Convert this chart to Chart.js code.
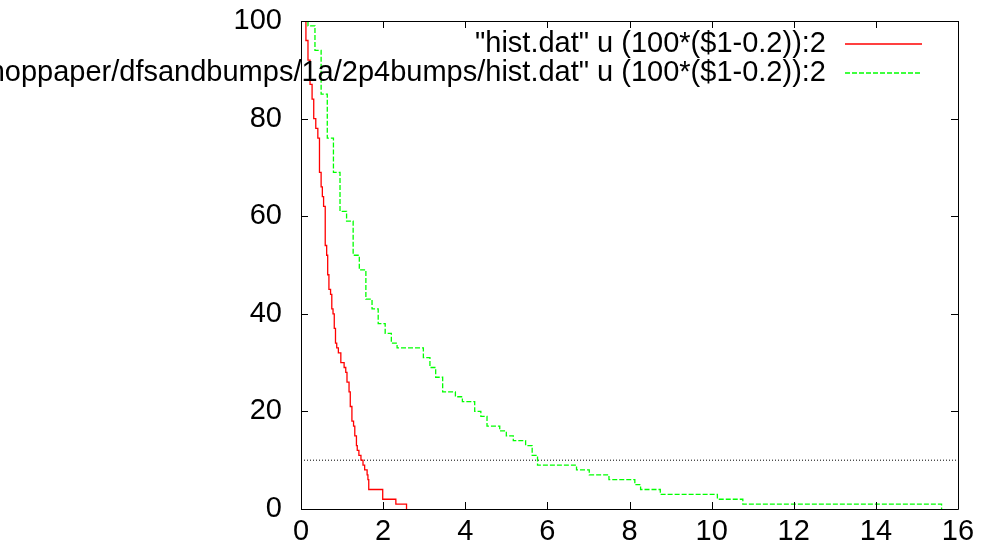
<!DOCTYPE html>
<html>
<head>
<meta charset="utf-8">
<script src="https://cdn.jsdelivr.net/npm/chart.js@4.4.1/dist/chart.umd.min.js"></script>
<style>
  html, body { margin: 0; padding: 0; background: #ffffff; }
  #wrap { width: 984px; height: 552px; }
</style>
</head>
<body>
<div id="wrap"><canvas id="c" width="984" height="552"></canvas></div>
<script>
// Tick positions for both axes
const xTicks = [0, 2, 4, 6, 8, 10, 12, 14, 16];
const yTicks = [0, 20, 40, 60, 80, 100];

// Series labels (as written by the plotting command)
const seriesLabels = [
  '"hist.dat" u (100*($1-0.2)):2',
  '"../workshoppaper/dfsandbumps/1a/2p4bumps/hist.dat" u (100*($1-0.2)):2'
];
const seriesColors = ['#ff0000', '#00ff00'];
const seriesDashes = [[], [5, 2]];

// Series 1: x where the count drops, and the count after the drop
const histX = [0.12, 0.12, 0.17, 0.22, 0.27, 0.31, 0.36, 0.41, 0.45, 0.49, 0.52, 0.55, 0.59, 0.625, 0.65,
  0.68, 0.72, 0.75, 0.78, 0.81, 0.84, 0.87, 0.91, 0.97, 1.05, 1.09, 1.12, 1.17, 1.20, 1.24, 1.28, 1.31,
  1.35, 1.37, 1.41, 1.46, 1.51, 1.55, 1.61, 1.63, 1.65, 1.99, 2.31, 2.57];
const histY = [100, 96, 92, 87, 84, 80, 78, 76, 69, 66, 64, 62, 54, 52, 48,
  45, 44, 41, 40, 37, 34, 33, 32, 30, 29, 28, 26, 24, 21, 18, 17, 15,
  13, 12, 11, 10, 9, 8, 7, 6, 4, 2, 1, 0];

// Series 2: 2p4bumps run
const bumpsX = [0.17, 0.17, 0.34, 0.49, 0.64, 0.79, 0.95, 1.11, 1.27, 1.42, 1.58, 1.73, 1.88, 2.05, 2.20,
  2.34, 2.98, 3.14, 3.28, 3.45, 3.76, 3.93, 4.23, 4.38, 4.53, 4.84, 5.00, 5.17, 5.47, 5.63, 5.76,
  6.71, 7.02, 7.50, 8.13, 8.27, 8.75, 10.14, 10.76, 15.60];
const bumpsY = [100, 99, 94, 85, 76, 69, 61, 59, 52, 49, 43, 41, 38, 36, 34,
  33, 31, 29, 27, 24, 23, 22, 20, 19, 17, 16, 15, 14, 13, 11, 9,
  8, 7, 6, 5, 4, 3, 2, 1, 0];

// Reference level at 10
const refX = [0, 16];
const refY = [10, 10];

const FONT = '"Liberation Sans", Arial, Helvetica, sans-serif';
const FONT_SIZE = 29;
const LINE_W = 1.3;

const toPoints = (xs, ys) => xs.map((x, i) => ({ x: x, y: ys[i] }));

// Border box with inward ticks on all four sides
const framePlugin = {
  id: 'frame',
  afterDatasetsDraw(chart) {
    const { ctx, chartArea: a, scales } = chart;
    const len = 7;
    ctx.save();
    ctx.strokeStyle = '#000';
    ctx.lineWidth = 1;
    ctx.beginPath();
    ctx.rect(Math.round(a.left) + 0.5, Math.round(a.top) + 0.5,
             Math.round(a.right - a.left), Math.round(a.bottom - a.top));
    ctx.stroke();
    ctx.beginPath();
    scales.x.ticks.forEach(t => {
      const px = Math.round(scales.x.getPixelForValue(t.value)) + 0.5;
      ctx.moveTo(px, a.bottom); ctx.lineTo(px, a.bottom - len);
      ctx.moveTo(px, a.top); ctx.lineTo(px, a.top + len);
    });
    scales.y.ticks.forEach(t => {
      const py = Math.round(scales.y.getPixelForValue(t.value)) + 0.5;
      ctx.moveTo(a.left, py); ctx.lineTo(a.left + len, py);
      ctx.moveTo(a.right, py); ctx.lineTo(a.right - len, py);
    });
    ctx.stroke();
    ctx.restore();
  }
};

// Key in the top-right corner: right-aligned text followed by a line sample
const keyPlugin = {
  id: 'key',
  afterDraw(chart) {
    const { ctx } = chart;
    const textRight = 826, sampleL = 845, sampleR = 922;
    const rows = [44, 73];
    ctx.save();
    ctx.font = FONT_SIZE + 'px ' + FONT;
    ctx.textAlign = 'right';
    ctx.textBaseline = 'middle';
    seriesLabels.forEach((label, i) => {
      const y = rows[i];
      ctx.fillStyle = '#000';
      ctx.fillText(label, textRight, y);
      ctx.strokeStyle = seriesColors[i];
      ctx.lineWidth = LINE_W;
      ctx.setLineDash(seriesDashes[i]);
      ctx.beginPath();
      ctx.moveTo(sampleL, y);
      ctx.lineTo(sampleR, y);
      ctx.stroke();
    });
    ctx.restore();
  }
};

new Chart(document.getElementById('c'), {
  type: 'line',
  data: {
    datasets: [
      {
        label: seriesLabels[0],
        data: toPoints(histX, histY),
        borderColor: seriesColors[0],
        borderWidth: LINE_W,
        borderDash: seriesDashes[0],
        stepped: true,
        pointRadius: 0,
        fill: false
      },
      {
        label: seriesLabels[1],
        data: toPoints(bumpsX, bumpsY),
        borderColor: seriesColors[1],
        borderWidth: LINE_W,
        borderDash: seriesDashes[1],
        stepped: true,
        pointRadius: 0,
        fill: false
      },
      {
        label: '',
        data: toPoints(refX, refY),
        borderColor: '#000000',
        borderWidth: 1,
        borderDash: [1, 2],
        pointRadius: 0,
        fill: false
      }
    ]
  },
  options: {
    responsive: false,
    animation: false,
    devicePixelRatio: 1,
    layout: { autoPadding: false, padding: { top: 21, right: 26, left: 0, bottom: 0 } },
    plugins: { legend: { display: false }, tooltip: { enabled: false } },
    scales: {
      x: {
        type: 'linear',
        min: 0, max: 16,
        afterBuildTicks: s => { s.ticks = xTicks.map(v => ({ value: v })); },
        afterFit: s => { s.height = 43; s.paddingLeft = 0; s.paddingRight = 0; },
        grid: { display: false, drawTicks: false },
        border: { display: false },
        ticks: { color: '#000', padding: 6, maxRotation: 0,
                 font: { family: FONT, size: FONT_SIZE } }
      },
      y: {
        type: 'linear',
        min: 0, max: 100,
        afterBuildTicks: s => { s.ticks = yTicks.map(v => ({ value: v })); },
        afterFit: s => { s.width = 301; s.paddingTop = 0; s.paddingBottom = 0; },
        grid: { display: false, drawTicks: false },
        border: { display: false },
        ticks: { color: '#000', padding: 19,
                 font: { family: FONT, size: FONT_SIZE } }
      }
    }
  },
  plugins: [framePlugin, keyPlugin]
});
</script>
</body>
</html>
